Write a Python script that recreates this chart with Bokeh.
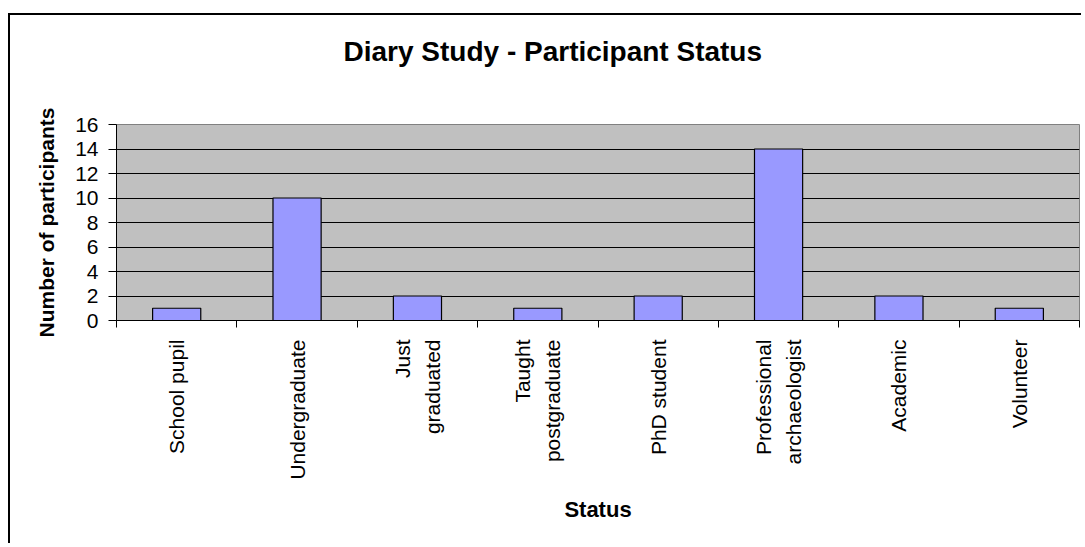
import math
from bokeh.plotting import figure
from bokeh.models import Range1d, FixedTicker
from bokeh.embed import file_html
from bokeh.resources import INLINE

title_text = "Diary Study - Participant Status"
categories = ["School pupil", "Undergraduate", "Just graduated", "Taught postgraduate",
              "PhD student", "Professional archaeologist", "Academic", "Volunteer"]
tick_labels = ["School pupil", "Undergraduate", "Just\ngraduated", "Taught\npostgraduate",
               "PhD student", "Professional\narchaeologist", "Academic", "Volunteer"]
participants = [1, 10, 2, 1, 2, 14, 2, 1]
yticks = [0, 2, 4, 6, 8, 10, 12, 14, 16]

FONT = "Liberation Sans"

n = len(categories)
centers = [i + 0.5 for i in range(n)]
bounds = [i for i in range(n + 1)]

p = figure(width=1073, height=530, output_backend="svg", toolbar_location=None,
           x_range=Range1d(0, n), y_range=Range1d(yticks[0], yticks[-1]),
           min_border_left=106, min_border_right=4, min_border_top=109, min_border_bottom=225,
           background_fill_color="#C0C0C0", border_fill_color="white",
           outline_line_color="#808080",
           styles={"border-top": "2px solid black", "border-left": "2px solid black",
                   "margin-top": "13px", "margin-left": "8px"})

p.vbar(x=centers, top=participants, width=0.4, bottom=0,
       fill_color="#9999FF", line_color="black", line_width=1.2)

# title (a trailing empty line lifts the text away from the frame)
p.title.text = title_text + "\n"
p.title.text_font = FONT
p.title.text_font_size = "28px"
p.title.text_font_style = "bold"
p.title.text_color = "black"
p.title.text_line_height = 1.4
p.title.align = "left"
p.title.offset = 227
p.title.standoff = 28

# x axis
xa = p.xaxis[0]
xa.ticker = FixedTicker(ticks=centers, minor_ticks=bounds)
xa.major_label_overrides = {c: lab for c, lab in zip(centers, tick_labels)}
xa.major_label_orientation = math.pi / 2
xa.major_tick_in = 0
xa.major_tick_out = 0
xa.minor_tick_in = 0
xa.minor_tick_out = 7
xa.minor_tick_line_color = "black"
xa.axis_line_color = "black"
xa.major_label_standoff = 12
xa.major_label_text_font = FONT
xa.major_label_text_font_size = "21px"
xa.major_label_text_color = "black"
xa.major_label_text_line_height = 1.3
xa.axis_label = "Status"
xa.axis_label_text_font = FONT
xa.axis_label_text_font_size = "22px"
xa.axis_label_text_font_style = "bold"
xa.axis_label_text_color = "black"
xa.axis_label_standoff = 14

# y axis
ya = p.yaxis[0]
ya.ticker = FixedTicker(ticks=yticks)
ya.major_tick_in = 0
ya.major_tick_out = 8
ya.minor_tick_line_color = None
ya.major_tick_line_color = "black"
ya.axis_line_color = "black"
ya.major_label_standoff = 10
ya.major_label_text_font = FONT
ya.major_label_text_font_size = "21px"
ya.major_label_text_color = "black"
ya.axis_label = "Number of participants"
ya.axis_label_text_font = FONT
ya.axis_label_text_font_size = "21px"
ya.axis_label_text_font_style = "bold"
ya.axis_label_text_color = "black"
ya.axis_label_standoff = 14

p.xgrid.visible = False
p.ygrid.ticker = FixedTicker(ticks=yticks[1:-1])
p.ygrid.grid_line_color = "black"
p.ygrid.grid_line_width = 1

open("out.html", "w").write(file_html(p, INLINE))
